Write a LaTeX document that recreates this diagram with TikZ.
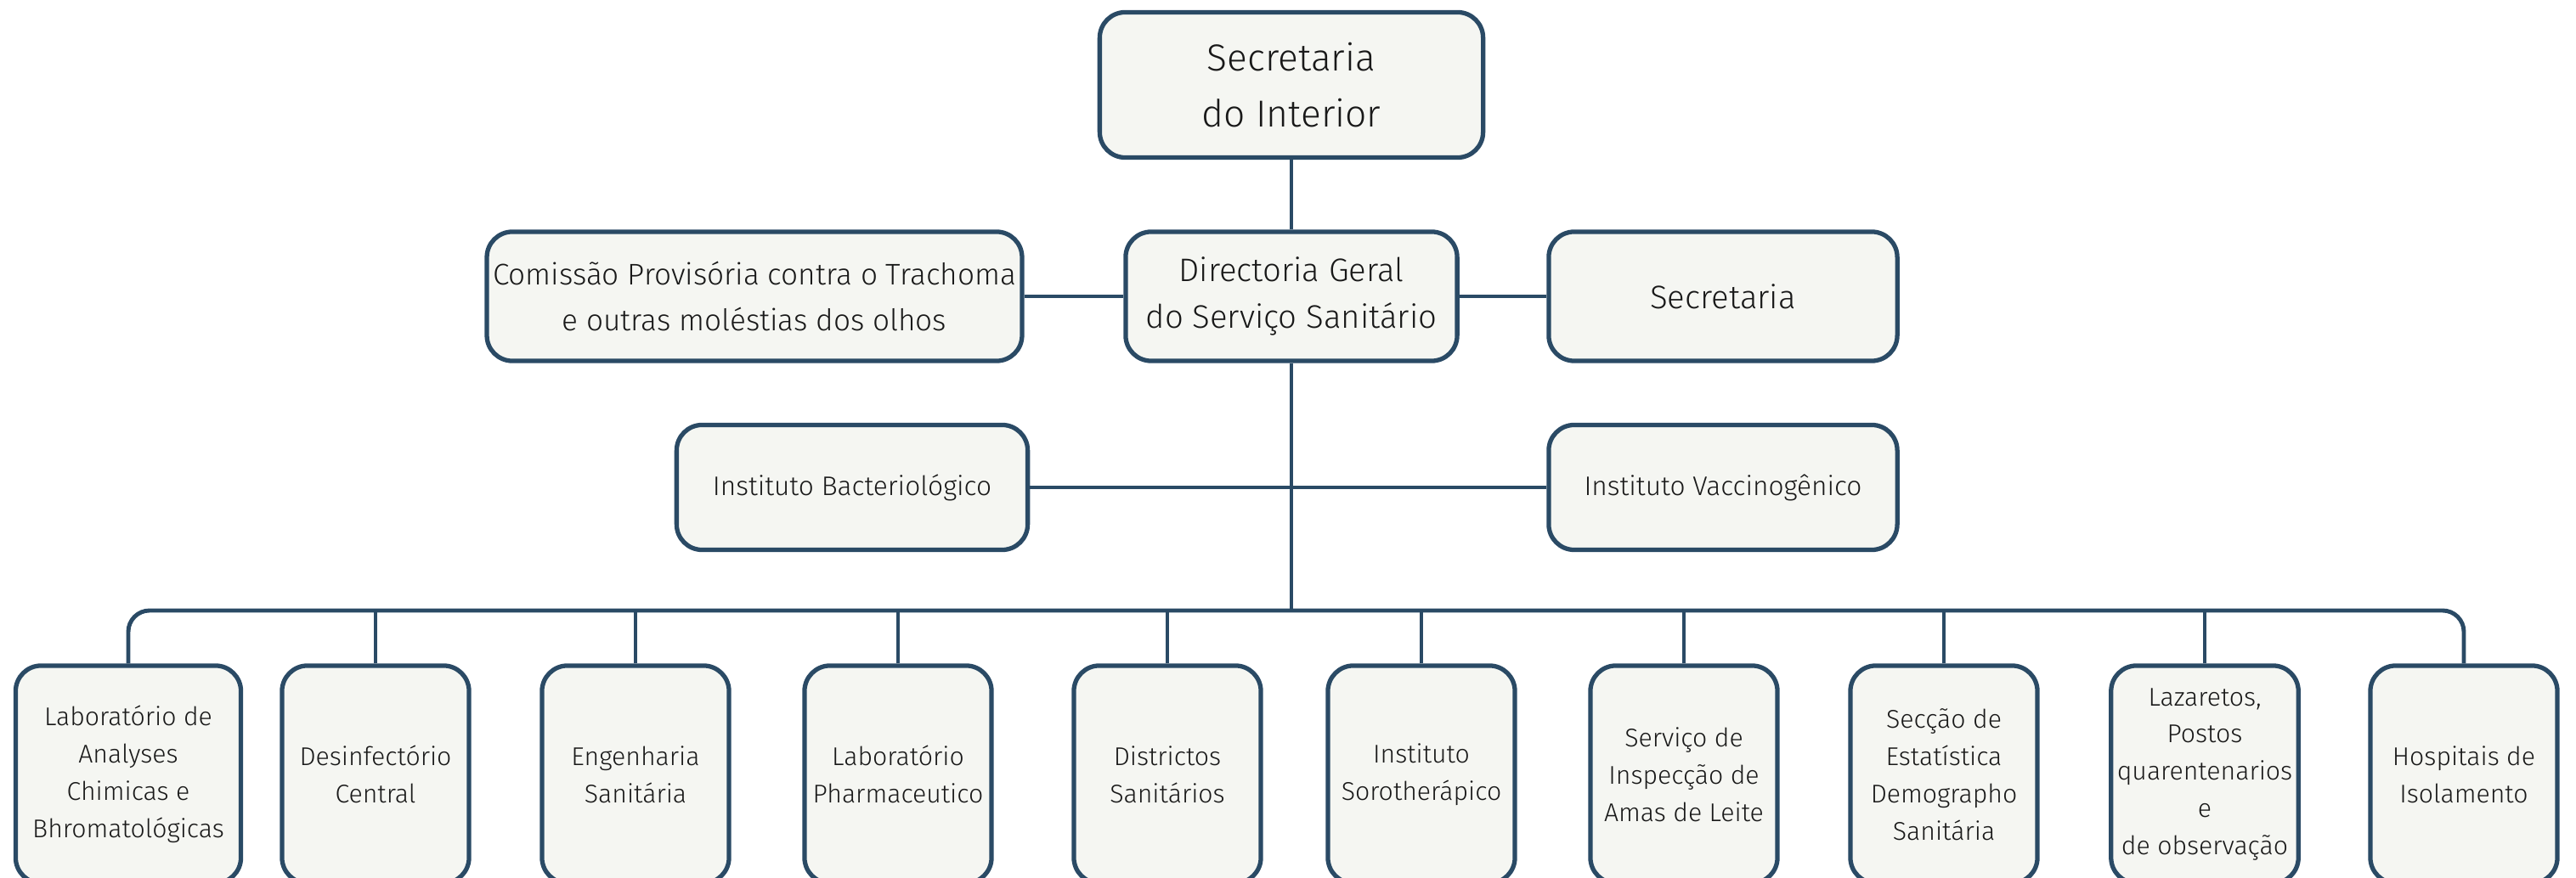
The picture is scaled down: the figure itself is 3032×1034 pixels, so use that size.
\documentclass[tikz,border=0pt]{standalone}
\usepackage{fontspec}
\setmainfont{Fira Sans Light}
\definecolor{edge}{RGB}{42,74,101}
\definecolor{paper}{RGB}{245,246,242}

\begin{document}
\begin{tikzpicture}[x=0.01cm,y=-0.01cm,
	unit/.style={draw=edge,fill=paper,line width=1.5pt,rounded corners=0.3cm,align=center,inner sep=2pt,text=black!90},
	big/.style={unit,font=\fontsize{12.6}{18.8}\selectfont},
	mid/.style={unit,font=\fontsize{10.9}{15.4}\selectfont,minimum height=1.52cm},
	inst/.style={unit,font=\fontsize{9}{13}\selectfont,minimum height=1.47cm},
	sub/.style={unit,font=\fontsize{8.6}{12.5}\selectfont,minimum width=2.2cm,minimum height=2.56cm},
	link/.style={draw=edge,line width=1.4pt}]
\useasboundingbox (0,0) rectangle (3032,1034);
\clip (0,0) rectangle (3032,1034);

\node[big,minimum width=4.51cm,minimum height=1.71cm] (top) at (1520,100) {Secretaria\\do Interior};
\node[mid,minimum width=3.9cm] (dir) at (1520,349) {Directoria Geral\\do Serviço Sanitário};
\node[mid,minimum width=6.27cm,font=\fontsize{10}{15.4}\selectfont] (com) at (888,349) {Comissão Provisória contra o Trachoma\\e outras moléstias dos olhos};
\node[mid,minimum width=4.1cm] (sec) at (2028,349) {Secretaria};
\node[inst,minimum width=4.13cm] (bac) at (1003,574) {Instituto Bacteriológico};
\node[inst,minimum width=4.1cm] (vac) at (2028,574) {Instituto Vaccinogênico};

% repartições
\node[sub,minimum width=2.65cm] (b1) at (151,912) {Laboratório de\\Analyses\\Chimicas e\\Bhromatológicas};
\node[sub] (b2) at (442,912) {Desinfectório\\Central};
\node[sub] (b3) at (748,912) {Engenharia\\Sanitária};
\node[sub] (b4) at (1057,912) {Laboratório\\Pharmaceutico};
\node[sub] (b5) at (1374,912) {Districtos\\Sanitários};
\node[sub] (b6) at (1673,912) {Instituto\\Sorotherápico};
\node[sub] (b7) at (1982,912) {Serviço de\\Inspecção de\\Amas de Leite};
\node[sub] (b8) at (2288,912) {Secção de\\Estatística\\Demographo\\Sanitária};
\node[sub] (b9) at (2595,912) {Lazaretos,\\Postos\\quarentenarios\\e\\de observação};
\node[sub] (b10) at (2900,912) {Hospitais de\\Isolamento};

\coordinate (bus) at (1520,719);
\draw[link] (top) -- (dir);
\draw[link] (com) -- (dir);
\draw[link] (dir) -- (sec);
\draw[link] (bac) -- (vac);
\draw[link] (dir.south) -- (bus);
\draw[link,rounded corners=0.25cm] (b1.north) -- (b1.north |- bus) -- (b10.north |- bus) -- (b10.north);
\draw[link] (b2.north) -- (b2.north |- bus);
\draw[link] (b3.north) -- (b3.north |- bus);
\draw[link] (b4.north) -- (b4.north |- bus);
\draw[link] (b5.north) -- (b5.north |- bus);
\draw[link] (b6.north) -- (b6.north |- bus);
\draw[link] (b7.north) -- (b7.north |- bus);
\draw[link] (b8.north) -- (b8.north |- bus);
\draw[link] (b9.north) -- (b9.north |- bus);
\end{tikzpicture}
\end{document}
